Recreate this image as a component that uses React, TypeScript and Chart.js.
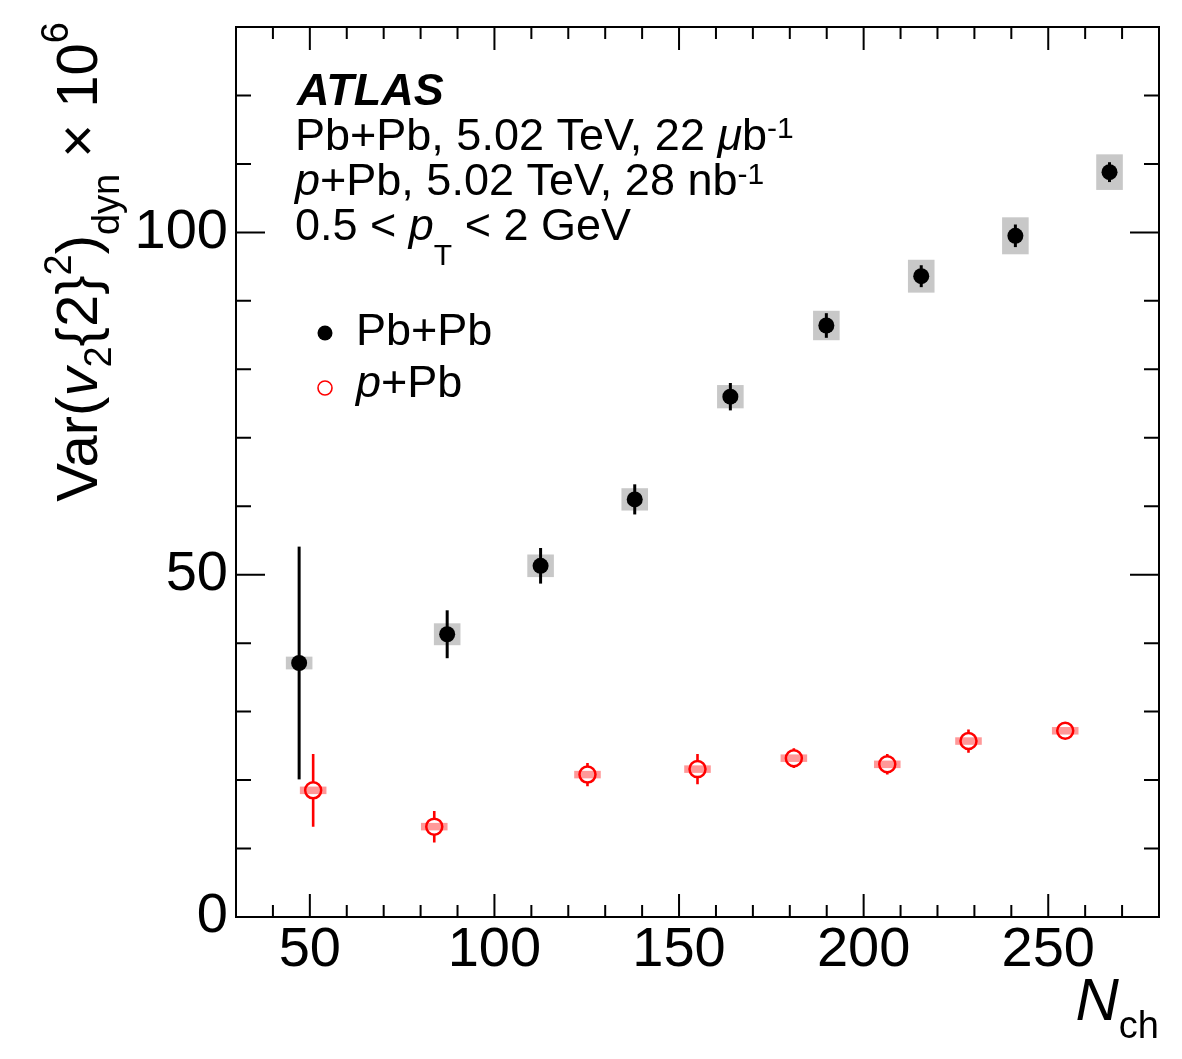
import React, { useEffect, useRef } from "react";
import { Chart, registerables } from "chart.js";
Chart.register(...registerables);

// ---- data ----
const pbpbN = [47.1, 87.2, 112.5, 138.0, 163.9, 189.9, 215.6, 241.1, 266.6];
const pbpbVar = [37.1, 41.3, 51.3, 61.0, 76.0, 86.4, 93.6, 99.5, 108.8];
const pbpbStat = [17.0, 3.5, 2.6, 2.2, 2.0, 1.8, 1.6, 1.65, 1.45];
const pbpbSyst = [0.93, 1.6, 1.65, 1.63, 1.7, 2.15, 2.4, 2.7, 2.6];

const ppbN = [50.9, 83.7, 125.2, 155.0, 181.1, 206.4, 228.4, 254.6];
const ppbVar = [18.5, 13.2, 20.8, 21.6, 23.2, 22.3, 25.7, 27.2];
const ppbStat = [5.3, 2.3, 1.7, 2.2, 1.45, 1.5, 1.7, 0.7];
const ppbSyst = [0.55, 0.55, 0.55, 0.55, 0.55, 0.55, 0.55, 0.55];

const systHalfWidth = 3.6;
const xTickValues = [50, 100, 150, 200, 250];
const yTickValues = [0, 50, 100];
const xMinorStep = 10;
const yMinorStep = 10;

const FAM = '"Liberation Sans", Arial, Helvetica, sans-serif';

type Run = { t: string; size: number; style?: string; dy?: number };

function runsWidth(ctx: CanvasRenderingContext2D, runs: Run[]) {
  let w = 0;
  for (const r of runs) {
    ctx.font = `${r.style || ""} ${r.size}px ${FAM}`;
    w += ctx.measureText(r.t).width;
  }
  return w;
}

function drawRuns(ctx: CanvasRenderingContext2D, x: number, y: number, runs: Run[], color = "#000") {
  ctx.fillStyle = color;
  ctx.textBaseline = "alphabetic";
  ctx.textAlign = "left";
  let cx = x;
  for (const r of runs) {
    ctx.font = `${r.style || ""} ${r.size}px ${FAM}`;
    ctx.fillText(r.t, cx, y + (r.dy || 0));
    cx += ctx.measureText(r.t).width;
  }
}

const decorPlugin = {
  id: "decor",
  beforeDatasetsDraw(chart: any) {
    const { ctx, scales } = chart;
    const xs = scales.x;
    const ys = scales.y;
    ctx.save();
    // systematic boxes
    ctx.fillStyle = "#c8c8c8";
    pbpbN.forEach((n, i) => {
      const x0 = xs.getPixelForValue(n - systHalfWidth);
      const x1 = xs.getPixelForValue(n + systHalfWidth);
      const y0 = ys.getPixelForValue(pbpbVar[i] + pbpbSyst[i]);
      const y1 = ys.getPixelForValue(pbpbVar[i] - pbpbSyst[i]);
      ctx.fillRect(x0, y0, x1 - x0, y1 - y0);
    });
    ctx.fillStyle = "rgba(255,0,0,0.4)";
    ppbN.forEach((n, i) => {
      const x0 = xs.getPixelForValue(n - systHalfWidth);
      const x1 = xs.getPixelForValue(n + systHalfWidth);
      const y0 = ys.getPixelForValue(ppbVar[i] + ppbSyst[i]);
      const y1 = ys.getPixelForValue(ppbVar[i] - ppbSyst[i]);
      ctx.fillRect(x0, y0, x1 - x0, y1 - y0);
    });
    // stat error bars
    ctx.strokeStyle = "#000";
    ctx.lineWidth = 3;
    pbpbN.forEach((n, i) => {
      const x = xs.getPixelForValue(n);
      ctx.beginPath();
      ctx.moveTo(x, ys.getPixelForValue(pbpbVar[i] + pbpbStat[i]));
      ctx.lineTo(x, ys.getPixelForValue(pbpbVar[i] - pbpbStat[i]));
      ctx.stroke();
    });
    ctx.strokeStyle = "#ff0000";
    ctx.lineWidth = 2.6;
    const r = 8;
    ppbN.forEach((n, i) => {
      const x = xs.getPixelForValue(n);
      const yc = ys.getPixelForValue(ppbVar[i]);
      const yt = ys.getPixelForValue(ppbVar[i] + ppbStat[i]);
      const yb = ys.getPixelForValue(ppbVar[i] - ppbStat[i]);
      if (yc - yt > r) {
        ctx.beginPath();
        ctx.moveTo(x, yt);
        ctx.lineTo(x, yc - r);
        ctx.moveTo(x, yc + r);
        ctx.lineTo(x, yb);
        ctx.stroke();
      }
    });
    ctx.restore();
  },
  afterDraw(chart: any) {
    const { ctx, chartArea, scales } = chart;
    const { left, right, top, bottom } = chartArea;
    const xs = scales.x;
    const ys = scales.y;
    ctx.save();
    // frame
    ctx.strokeStyle = "#000";
    ctx.lineWidth = 2;
    ctx.strokeRect(left, top, right - left, bottom - top);
    // ticks
    ctx.lineWidth = 2;
    ctx.beginPath();
    for (let v = xs.min; v <= xs.max + 1e-6; v += 1) {
      const vv = Math.round(v);
      if (vv % xMinorStep !== 0) continue;
      const major = xTickValues.includes(vv);
      const len = major ? 23 : 12;
      const x = xs.getPixelForValue(vv);
      if (x <= left + 1 || x >= right - 1) continue;
      ctx.moveTo(x, bottom);
      ctx.lineTo(x, bottom - len);
      ctx.moveTo(x, top);
      ctx.lineTo(x, top + len);
    }
    for (let v = ys.min; v <= ys.max + 1e-6; v += yMinorStep) {
      const major = yTickValues.includes(v);
      const len = major ? 29 : 15;
      const y = ys.getPixelForValue(v);
      if (y <= top + 1 || y >= bottom - 1) continue;
      ctx.moveTo(left, y);
      ctx.lineTo(left + len, y);
      ctx.moveTo(right, y);
      ctx.lineTo(right - len, y);
    }
    ctx.stroke();

    // texts
    const F = 45;
    const S = 30;
    drawRuns(ctx, 297, 105, [{ t: "ATLAS", size: F, style: "italic bold" }]);
    drawRuns(ctx, 295, 150, [
      { t: "Pb+Pb, 5.02 TeV, 22 ", size: F },
      { t: "\u03bc", size: F, style: "italic" },
      { t: "b", size: F },
      { t: "-1", size: S, dy: -12 },
    ]);
    drawRuns(ctx, 295, 195, [
      { t: "p", size: F, style: "italic" },
      { t: "+Pb, 5.02 TeV, 28 nb", size: F },
      { t: "-1", size: S, dy: -11 },
    ]);
    drawRuns(ctx, 295, 240, [
      { t: "0.5 < ", size: F },
      { t: "p", size: F, style: "italic" },
      { t: "T", size: S, dy: 25 },
      { t: " < 2 GeV", size: F },
    ]);

    // legend
    ctx.fillStyle = "#000";
    ctx.beginPath();
    ctx.arc(325, 333, 7.5, 0, Math.PI * 2);
    ctx.fill();
    ctx.strokeStyle = "#ff0000";
    ctx.lineWidth = 1.6;
    ctx.beginPath();
    ctx.arc(325, 388, 7, 0, Math.PI * 2);
    ctx.stroke();
    drawRuns(ctx, 356, 345, [{ t: "Pb+Pb", size: F }]);
    drawRuns(ctx, 356, 397, [
      { t: "p", size: F, style: "italic" },
      { t: "+Pb", size: F },
    ]);

    // x title
    const nRuns: Run[] = [
      { t: "N", size: 60, style: "italic" },
      { t: "ch", size: 38, dy: 18 },
    ];
    const wN = runsWidth(ctx, nRuns);
    drawRuns(ctx, right - wN, 1020, nRuns);

    // y title (rotated)
    const T = 58;
    const s = 38;
    const yRuns: Run[] = [
      { t: "Var(", size: T },
      { t: "v", size: T, style: "italic" },
      { t: "2", size: s, dy: 14 },
      { t: "{2}", size: T },
      { t: "2", size: s, dy: -26 },
      { t: ")", size: T },
      { t: "dyn", size: s, dy: 22 },
      { t: " \u00d7 ", size: T },
      { t: "10", size: T },
      { t: "6", size: s, dy: -29 },
    ];
    const wY = runsWidth(ctx, yRuns);
    ctx.translate(97, 22 + wY);
    ctx.rotate(-Math.PI / 2);
    drawRuns(ctx, 0, 0, yRuns);
    ctx.restore();
  },
};

export default function App() {
  const ref = useRef<HTMLCanvasElement | null>(null);
  useEffect(() => {
    document.body.style.margin = "0";
    const canvas = ref.current;
    if (!canvas) return;
    const chart = new Chart(canvas, {
      type: "scatter",
      data: {
        datasets: [
          {
            label: "Pb+Pb",
            data: pbpbN.map((x, i) => ({ x, y: pbpbVar[i] })),
            pointRadius: 8,
            pointBackgroundColor: "#000",
            pointBorderColor: "#000",
            pointBorderWidth: 0,
            showLine: false,
          },
          {
            label: "p+Pb",
            data: ppbN.map((x, i) => ({ x, y: ppbVar[i] })),
            pointRadius: 8,
            pointBackgroundColor: "rgba(0,0,0,0)",
            pointBorderColor: "#ff0000",
            pointBorderWidth: 2.5,
            showLine: false,
          },
        ],
      },
      options: {
        animation: false,
        responsive: false,
        devicePixelRatio: 1,
        layout: { padding: { left: 0, right: 23, top: 27, bottom: 0 } },
        plugins: { legend: { display: false }, tooltip: { enabled: false } },
        scales: {
          x: {
            type: "linear",
            min: 30,
            max: 280,
            afterBuildTicks: (sc: any) => {
              sc.ticks = xTickValues.map((v) => ({ value: v }));
            },
            afterFit: (sc: any) => {
              sc.height = 142;
              sc.paddingLeft = 0;
              sc.paddingRight = 0;
            },
            grid: { display: false, drawTicks: false },
            border: { display: false },
            ticks: {
              font: { family: FAM, size: 56 },
              color: "#000",
              padding: 0,
              maxRotation: 0,
              autoSkip: false,
            },
          },
          y: {
            type: "linear",
            min: 0,
            max: 130,
            afterBuildTicks: (sc: any) => {
              sc.ticks = yTickValues.map((v) => ({ value: v }));
            },
            afterFit: (sc: any) => {
              sc.width = 236;
              sc.paddingTop = 0;
              sc.paddingBottom = 0;
            },
            grid: { display: false, drawTicks: false },
            border: { display: false },
            ticks: {
              font: { family: FAM, size: 56 },
              color: "#000",
              padding: 8,
              autoSkip: false,
            },
          },
        },
      },
      plugins: [decorPlugin],
    } as any);
    return () => chart.destroy();
  }, []);
  return (
    <canvas
      ref={ref}
      width={1182}
      height={1059}
      style={{ display: "block", width: 1182, height: 1059, background: "#fff" }}
    />
  );
}
